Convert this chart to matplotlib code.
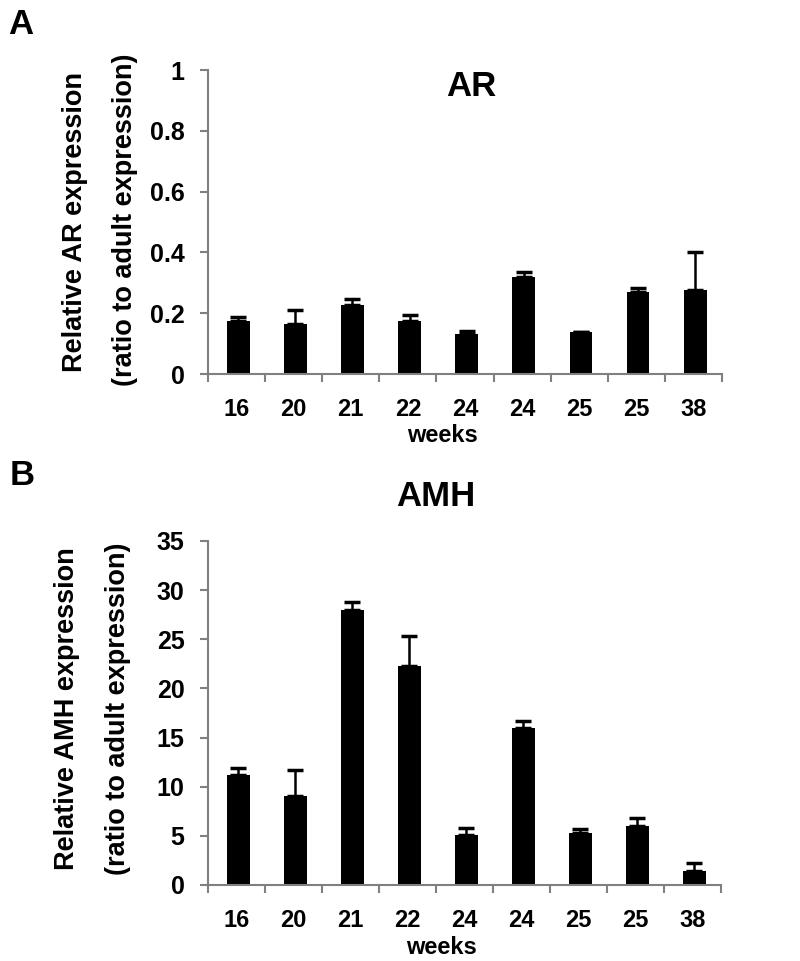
import numpy as np
import matplotlib
matplotlib.use("Agg")
import matplotlib.pyplot as plt

plt.rcParams['font.family'] = ['Liberation Sans', 'DejaVu Sans']
plt.rcParams['font.weight'] = 'bold'

weeks = ['16', '20', '21', '22', '24', '24', '25', '25', '38']

ar_mean = [0.175, 0.165, 0.227, 0.175, 0.131, 0.318, 0.137, 0.271, 0.275]
ar_err = [0.013, 0.045, 0.021, 0.019, 0.009, 0.019, 0.0, 0.013, 0.127]

amh_mean = [11.2, 9.1, 27.95, 22.3, 5.1, 15.95, 5.3, 6.0, 1.4]
amh_err = [0.7, 2.6, 0.8, 3.0, 0.7, 0.75, 0.35, 0.85, 0.8]

W, H = 800, 961
fig = plt.figure(figsize=(W / 100, H / 100), dpi=100)

def px_box(left, top, right, bottom):
  return [left / W, 1 - bottom / H, (right - left) / W, (bottom - top) / H]

def fx(x):
  return x / W

def fy(y):
  return 1 - y / H

axis_color = '#808080'

def panel(ax, means, errs, ymax, ystep, yfmt):
  x = np.arange(len(means))
  lower = np.zeros(len(means))
  ax.bar(x + 0.03, means, width=0.4, color='black', zorder=2)
  ax.errorbar(x + 0.03, means, yerr=[lower, errs], fmt='none', ecolor='black',
              elinewidth=1.8, capsize=6, capthick=2.5, zorder=3)
  ax.set_xlim(-0.5, len(means) - 0.5)
  ax.set_ylim(0, ymax)
  ticks = np.arange(0, ymax + ystep / 2, ystep)
  ax.set_yticks(ticks)
  ax.set_yticklabels([yfmt(v) for v in ticks])
  ax.set_xticks(x)
  ax.set_xticklabels(weeks)
  ax.set_xticks(np.arange(-0.5, len(means)), minor=True)
  for s in ['top', 'right']:
    ax.spines[s].set_visible(False)
  for s in ['left', 'bottom']:
    ax.spines[s].set_color(axis_color)
    ax.spines[s].set_linewidth(1.5)
  ax.tick_params(axis='x', which='major', length=0, pad=17, labelsize=17)
  ax.tick_params(axis='x', which='minor', length=6, width=1.5, color=axis_color, direction='out')
  ax.tick_params(axis='y', length=6, width=1.5, color=axis_color, pad=11, labelsize=18)
  for lab in ax.get_xticklabels() + ax.get_yticklabels():
    lab.set_fontweight('bold')

ax1 = fig.add_axes(px_box(208, 70, 722, 374))
panel(ax1, ar_mean, ar_err, 1.0, 0.2, lambda v: '0' if v == 0 else ('1' if abs(v - 1) < 1e-9 else f'{v:.1f}'))

ax2 = fig.add_axes(px_box(208, 541, 721, 885))
panel(ax2, amh_mean, amh_err, 35, 5, lambda v: f'{int(round(v))}')

# titles and panel letters
fig.text(fx(471), fy(86), 'AR', ha='center', va='center', fontsize=25, fontweight='bold')
fig.text(fx(436), fy(496), 'AMH', ha='center', va='center', fontsize=25, fontweight='bold')
fig.text(fx(8), fy(24), 'A', ha='left', va='center', fontsize=25, fontweight='bold')
fig.text(fx(10), fy(476), 'B', ha='left', va='center', fontsize=25, fontweight='bold')

# x axis labels
fig.text(fx(442), fy(435), 'weeks', ha='center', va='center', fontsize=17, fontweight='bold')
fig.text(fx(441), fy(947), 'weeks', ha='center', va='center', fontsize=17, fontweight='bold')

# y axis labels (two lines each)
fig.text(fx(75), fy(222), 'Relative AR expression', rotation=90, ha='center', va='center', fontsize=19.5, fontweight='bold')
fig.text(fx(125), fy(220), '(ratio to adult expression)', rotation=90, ha='center', va='center', fontsize=19.5, fontweight='bold')
fig.text(fx(67), fy(709), 'Relative AMH expression', rotation=90, ha='center', va='center', fontsize=19.5, fontweight='bold')
fig.text(fx(118), fy(709), '(ratio to adult expression)', rotation=90, ha='center', va='center', fontsize=19.5, fontweight='bold')

fig.savefig('out.png', dpi=100)
